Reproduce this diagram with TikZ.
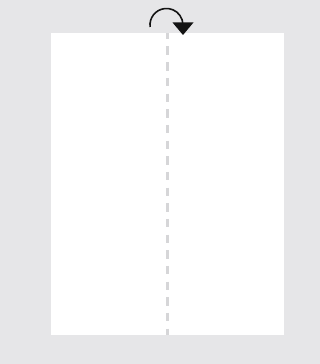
\documentclass[tikz,border=0pt]{standalone}
\usepackage{xcolor}
\usepackage{tikz}
\usetikzlibrary{arrows.meta}
\definecolor{sheetBack} {RGB}{230, 230, 232}
\definecolor{foldGray}  {RGB}{214, 214, 216}
\definecolor{arrowInk}  {RGB}{20,  20,  20}

\begin{document}
\begin{tikzpicture}[x=1pt,y=1pt]
        % Fundo
        \fill[sheetBack] (0,0) rectangle (320,364);
        \useasboundingbox (0,0) rectangle (320,364);
        % Folha
        \fill[white] (50.5,28.5) rectangle (283.5,330.5);
        % Linha de dobra
        \coordinate (foldTop) at (167.5,330.5);
        \coordinate (foldBot) at (167.5,28.5);
        \draw[foldGray,line width=3pt,dash pattern=on 8.5pt off 7.17pt,dash phase=2.67pt]
          (foldTop)--(foldBot);
        % Seta de giro
        \draw[arrowInk,line width=1.6pt]
          (150.1,337) arc[start angle=187,end angle=0,radius=16.5];
        \fill[arrowInk] (172.5,341.5)--(193.5,341.5)--(183,329)--cycle;
      \end{tikzpicture}
\end{document}
